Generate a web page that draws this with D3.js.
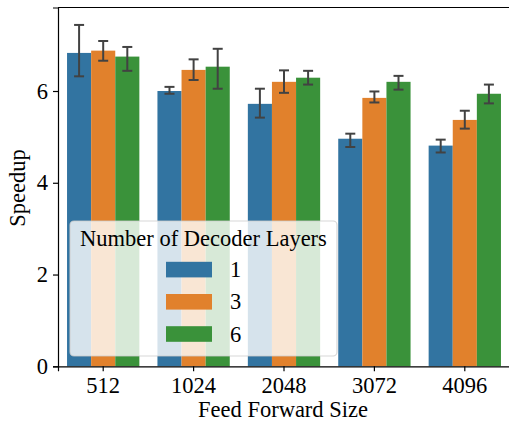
<!DOCTYPE html>
<html>
<head>
<meta charset="utf-8">
<script src="https://cdn.jsdelivr.net/npm/d3@7"></script>
<style>
  html, body { margin: 0; padding: 0; background: #fff; }
  svg { display: block; }
  svg text { font-family: "Liberation Serif", "Times New Roman", Times, "DejaVu Serif", serif !important; fill: #000; }
</style>
</head>
<body>
<svg id="chart" width="509" height="423"></svg>
<script>
// Feed-forward sizes on the x axis
const categories = ["512", "1024", "2048", "3072", "4096"];
// Hue groups: number of decoder layers
const layers = ["1", "3", "6"];
const colors = ["#3274a1", "#e1812c", "#3a923a"];

// Mean speedup per layer count
const speedup1 = [6.83, 6.00, 5.72, 4.96, 4.81];
const speedup3 = [6.88, 6.46, 6.20, 5.85, 5.37];
const speedup6 = [6.75, 6.53, 6.29, 6.20, 5.94];

// Confidence interval bounds
const low1  = [6.32, 5.94, 5.42, 4.78, 4.66];
const high1 = [7.44, 6.09, 6.05, 5.07, 4.94];
const low3  = [6.66, 6.24, 5.96, 5.75, 5.18];
const high3 = [7.09, 6.69, 6.45, 5.99, 5.57];
const low6  = [6.44, 6.05, 6.14, 6.03, 5.73];
const high6 = [6.96, 6.92, 6.44, 6.33, 6.14];

const yTicks = [0, 2, 4, 6];

const series = [
  { key: layers[0], values: speedup1, low: low1, high: high1, color: colors[0] },
  { key: layers[1], values: speedup3, low: low3, high: high3, color: colors[1] },
  { key: layers[2], values: speedup6, low: low6, high: high6, color: colors[2] }
];

const FS = 22.5;
const svg = d3.select("#chart");
const plotLeft = 58, plotRight = 510, plotTop = 7.5, plotBottom = 366.3;

const x = d3.scaleBand().domain(categories).range([plotLeft, plotRight]).paddingInner(0.2).paddingOuter(0.1);
const xHue = d3.scaleBand().domain(layers).range([0, x.bandwidth()]);
const y = d3.scaleLinear().domain([0, 7.82]).range([plotBottom, plotTop]);

const rows = [];
series.forEach(s => categories.forEach((c, i) => rows.push({
  cat: c, key: s.key, value: s.values[i], low: s.low[i], high: s.high[i], color: s.color
})));

// Bars
svg.append("g").selectAll("rect").data(rows).join("rect")
  .attr("x", d => x(d.cat) + xHue(d.key))
  .attr("y", d => y(d.value))
  .attr("width", xHue.bandwidth())
  .attr("height", d => y(0) - y(d.value))
  .attr("fill", d => d.color);

// Error bars with caps
const errG = svg.append("g").attr("stroke", "#424242").attr("stroke-width", 2).attr("fill", "none");
const capHalf = 5;
rows.forEach(d => {
  const cx = x(d.cat) + xHue(d.key) + xHue.bandwidth() / 2;
  errG.append("line").attr("x1", cx).attr("x2", cx).attr("y1", y(d.low)).attr("y2", y(d.high));
  errG.append("line").attr("x1", cx - capHalf).attr("x2", cx + capHalf).attr("y1", y(d.low)).attr("y2", y(d.low));
  errG.append("line").attr("x1", cx - capHalf).attr("x2", cx + capHalf).attr("y1", y(d.high)).attr("y2", y(d.high));
});

// Axes
const xAxis = svg.append("g").attr("transform", `translate(0,${plotBottom})`)
  .call(d3.axisBottom(x).tickSize(5).tickPadding(6));
const yAxis = svg.append("g").attr("transform", `translate(${plotLeft},0)`)
  .call(d3.axisLeft(y).tickValues(yTicks).tickSize(5).tickPadding(5).tickFormat(d3.format("d")));
[xAxis, yAxis].forEach(g => {
  g.attr("font-family", null).attr("font-size", FS);
  g.selectAll("text").attr("font-size", FS);
  g.selectAll("line").attr("stroke", "#000").attr("stroke-width", 1.2);
  g.select(".domain").attr("stroke", "#000").attr("stroke-width", 1.2);
});

// Top and right spines
svg.append("line").attr("x1", plotLeft).attr("x2", plotRight).attr("y1", plotTop).attr("y2", plotTop)
  .attr("stroke", "#000").attr("stroke-width", 1.2);
svg.append("line").attr("x1", plotRight).attr("x2", plotRight).attr("y1", plotTop).attr("y2", plotBottom)
  .attr("stroke", "#000").attr("stroke-width", 1.2);

// Axis titles
svg.append("text").attr("x", (plotLeft + plotRight) / 2 - 1).attr("y", 417)
  .attr("text-anchor", "middle").attr("font-size", FS).text("Feed Forward Size");
svg.append("text").attr("transform", `translate(25,${(plotTop + plotBottom) / 2 + 1}) rotate(-90)`)
  .attr("text-anchor", "middle").attr("font-size", FS).text("Speedup");

// Legend
const lg = svg.append("g");
lg.append("rect").attr("x", 70).attr("y", 221).attr("width", 267).attr("height", 135)
  .attr("rx", 4).attr("fill", "#fff").attr("fill-opacity", 0.8)
  .attr("stroke", "#cccccc").attr("stroke-opacity", 0.8).attr("stroke-width", 1.2);
lg.append("text").attr("x", 203.5).attr("y", 246).attr("text-anchor", "middle")
  .attr("font-size", FS).text("Number of Decoder Layers");
series.forEach((s, i) => {
  const cy = 269.6 + i * 32.2;
  lg.append("rect").attr("x", 166).attr("y", cy - 7.8).attr("width", 46).attr("height", 15.6).attr("fill", s.color);
  lg.append("text").attr("x", 230).attr("y", cy + 7.5).attr("font-size", FS).text(s.key);
});
</script>
</body>
</html>
